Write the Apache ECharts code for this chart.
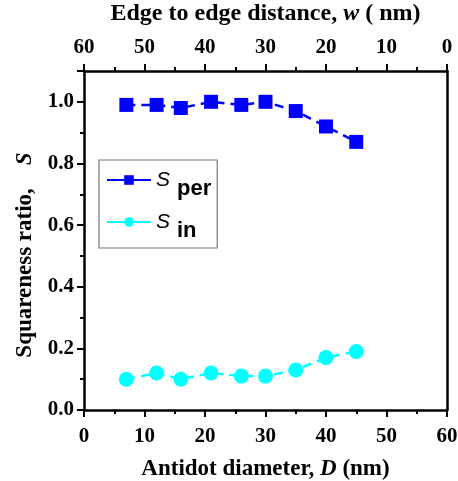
<!DOCTYPE html>
<html>
<head>
<meta charset="utf-8">
<script src="https://cdn.jsdelivr.net/npm/echarts@6/dist/echarts.min.js"></script>
<style>html,body{margin:0;padding:0;background:#fff}#c{width:458px;height:481px}</style>
</head>
<body>
<div id="c"></div>
<script>
const diameters = [7, 12, 16, 21, 26, 30, 35, 40, 45];
const sPer = [0.99, 0.99, 0.98, 1.0, 0.99, 1.0, 0.97, 0.92, 0.87];
const sIn = [0.10, 0.12, 0.10, 0.12, 0.11, 0.11, 0.13, 0.17, 0.19];
const seriesNames = ['per', 'in'];

const serif = 'Liberation Serif';
const sans = 'Liberation Sans';
const black = '#000';

const chart = echarts.init(document.getElementById('c'), null, {renderer: 'canvas'});

const italicRich = function (size) {
  return {i: {fontFamily: serif, fontWeight: 'bold', fontStyle: 'italic', fontSize: size, color: black}};
};

const axisBase = {
  type: 'value', min: 0, max: 60, interval: 10,
  axisLine: {show: true, onZero: false, lineStyle: {color: black, width: 2.5}},
  axisTick: {show: true, inside: false, length: 7, lineStyle: {color: black, width: 2}},
  minorTick: {show: true, splitNumber: 2, length: 4, lineStyle: {color: black, width: 2}},
  splitLine: {show: false},
  axisLabel: {color: black, fontFamily: serif, fontWeight: 'bold', fontSize: 21, margin: 8},
  nameLocation: 'middle'
};

chart.setOption({
  animation: false,
  backgroundColor: '#fff',
  grid: {left: 84, right: 11, top: 71, bottom: 71, containLabel: false, outerBoundsMode: 'none'},
  legend: {
    orient: 'vertical', left: 99, top: 160,
    padding: [0, 6, 6, 7],
    borderColor: '#777', borderWidth: 1.2,
    itemWidth: 44, itemHeight: 12, itemGap: 2,
    lineStyle: {type: 'solid'},
    data: seriesNames,
    formatter: function (n) { return '{s|S}{sub|' + n + '}'; },
    textStyle: {
      rich: {
        s: {fontFamily: sans, fontStyle: 'italic', fontSize: 21, color: black, lineHeight: 10, padding: [0, 7, 0, 0]},
        sub: {fontFamily: sans, fontWeight: 'bold', fontSize: 22, color: black, lineHeight: 10, padding: [18, 0, 0, 0]}
      }
    }
  },
  xAxis: [
    Object.assign({}, axisBase, {
      position: 'bottom',
      axisLabel: Object.assign({}, axisBase.axisLabel, {margin: 16}),
      name: 'Antidot diameter, {i|D} (nm)',
      nameGap: 48,
      nameTextStyle: {color: black, fontFamily: serif, fontWeight: 'bold', fontSize: 23, rich: italicRich(23)}
    }),
    Object.assign({}, axisBase, {
      position: 'top', inverse: true,
      axisLabel: Object.assign({}, axisBase.axisLabel, {margin: 13}),
      name: 'Edge to edge distance, {i|w} ( nm)',
      nameGap: 45,
      nameTextStyle: {color: black, fontFamily: serif, fontWeight: 'bold', fontSize: 24, rich: italicRich(24)}
    })
  ],
  yAxis: [
    {
      type: 'value', min: 0, max: 1.1, interval: 0.2, position: 'left',
      axisLine: {show: true, onZero: false, lineStyle: {color: black, width: 2.5}},
      axisTick: {show: true, length: 7, lineStyle: {color: black, width: 2}},
      minorTick: {show: true, splitNumber: 2, length: 4, lineStyle: {color: black, width: 2}},
      splitLine: {show: false},
      axisLabel: {
        color: black, fontFamily: serif, fontWeight: 'bold', fontSize: 21, margin: 10,
        showMaxLabel: false,
        formatter: function (v) { return v > 1.05 ? '' : v.toFixed(1); }
      },
      name: 'Squareness ratio,    {i|S}',
      nameLocation: 'middle', nameGap: 47,
      nameTextStyle: {
        color: black, fontFamily: serif, fontWeight: 'bold', fontSize: 23,
        padding: [0, 29, 0, 0],
        rich: italicRich(23)
      }
    },
    {
      type: 'value', min: 0, max: 1.1, position: 'right',
      axisLine: {show: true, onZero: false, lineStyle: {color: black, width: 2.5}},
      axisTick: {show: false}, axisLabel: {show: false}, splitLine: {show: false}
    }
  ],
  series: [
    {
      name: seriesNames[0], type: 'line', xAxisIndex: 0, yAxisIndex: 0,
      data: diameters.map((d, i) => [d, sPer[i]]),
      symbol: 'rect', symbolSize: 14,
      lineStyle: {color: '#0000ff', width: 2.5, type: [9, 6]},
      itemStyle: {color: '#0000ff'}
    },
    {
      name: seriesNames[1], type: 'line', xAxisIndex: 0, yAxisIndex: 0,
      data: diameters.map((d, i) => [d, sIn[i]]),
      symbol: 'circle', symbolSize: 15,
      lineStyle: {color: '#00ffff', width: 2.5, type: [9, 6]},
      itemStyle: {color: '#00ffff'}
    }
  ]
});
</script>
</body>
</html>
